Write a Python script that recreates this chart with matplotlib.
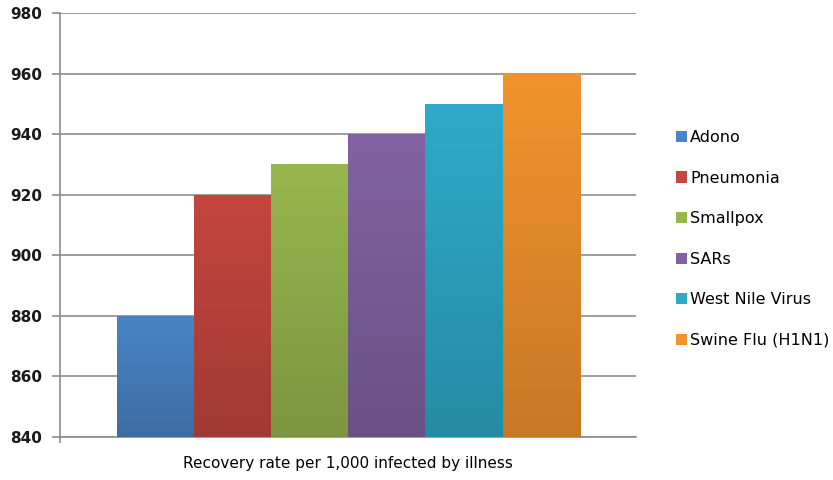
import numpy as np
import matplotlib
matplotlib.use("Agg")
import matplotlib.pyplot as plt
import matplotlib.colors as mcolors

plt.rcParams['font.family'] = ['DejaVu Sans']

illnesses = ['Adono', 'Pneumonia', 'Smallpox', 'SARs', 'West Nile Virus', 'Swine Flu (H1N1)']
recovery = [880, 920, 930, 940, 950, 960]
# colour at the top of each bar; bars darken towards the base
colors = ['#4a84c6', '#c4463f', '#98b64e', '#8262a2', '#2eaac8', '#f2932e']

fig = plt.figure(figsize=(8.33, 4.8), dpi=100)
ax = fig.add_axes([0.072, 0.0896, 0.6915, 0.8834])

base = 840
x = np.arange(len(illnesses))
grad = np.linspace(0, 1, 100).reshape(-1, 1)
handles = []
for i, (name, val, c) in enumerate(zip(illnesses, recovery, colors)):
    bar = ax.bar(x[i], val - base, bottom=base, width=1.0, color=c,
                 label=name, zorder=2, linewidth=0)[0]
    rgb = np.array(mcolors.to_rgb(c))
    cmap = mcolors.LinearSegmentedColormap.from_list('g%d' % i, [rgb * 0.82, rgb])
    im = ax.imshow(grad, cmap=cmap, aspect='auto', origin='lower',
                   extent=[x[i] - 0.5, x[i] + 0.5, base, val], zorder=3)
    im.set_clip_path(bar)
    handles.append(bar)

ax.set_xlim(-0.5 - 0.74, len(illnesses) - 0.5 + 0.73)
ax.set_ylim(840, 980)
ax.set_yticks(np.arange(840, 981, 20))
ax.yaxis.grid(True, color='#8c8c8c', linewidth=1.2, zorder=0)
ax.set_axisbelow(True)
ax.set_xticks([-0.5 - 0.74])
ax.set_xticklabels([''])
ax.tick_params(axis='x', length=4, color='#8c8c8c', width=1.2)
ax.tick_params(axis='y', length=5.8, color='#8c8c8c', width=1.2, labelsize=11, pad=7)
for lbl in ax.get_yticklabels():
    lbl.set_fontweight('bold')
    lbl.set_color('#1a1a1a')
for s in ['top', 'right']:
    ax.spines[s].set_visible(False)
ax.spines['left'].set_color('#8c8c8c')
ax.spines['left'].set_linewidth(1.2)
ax.spines['bottom'].set_color('#8c8c8c')
ax.spines['bottom'].set_linewidth(1.2)

ax.set_xlabel('Recovery rate per 1,000 infected by illness', fontsize=11, labelpad=6.5)

leg = fig.legend(handles=handles, labels=illnesses, loc='upper left',
                 bbox_to_anchor=(0.8115, 0.729), frameon=False, fontsize=11.5,
                 handlelength=0.7, handleheight=0.7, handletextpad=0.2,
                 labelspacing=1.6, borderaxespad=0, borderpad=0)

fig.savefig('out.png', dpi=100)
